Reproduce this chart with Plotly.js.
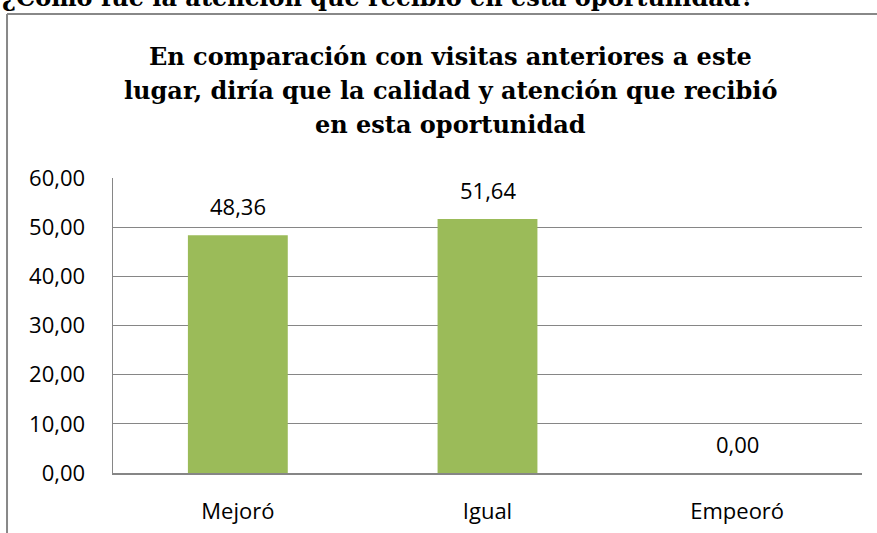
<!DOCTYPE html>
<html>
<head>
<meta charset="utf-8">
<script src="https://cdn.plot.ly/plotly-3.0.1.min.js"></script>
<style>html,body{margin:0;padding:0;background:#fff;}#chart{width:877px;height:533px;}</style>
</head>
<body>
<div id="chart"></div>
<script>
const categories = ["Mejoró", "Igual", "Empeoró"];
const values = [48.36, 51.64, 0.00];
const yTicks = [0, 10, 20, 30, 40, 50, 60];
const titleLines = [
  "En comparación con visitas anteriores a este",
  "lugar, diría que la calidad y atención que recibió",
  "en esta oportunidad"
];
const pageHeading = "¿Cómo fue la atención que recibió en esta oportunidad?";

const fmt = v => v.toFixed(2).replace('.', ',');
const labelFont = {family: "Open Sans", size: 22, color: '#000'};
const serifFont = {family: "DejaVu Serif", size: 24, color: '#000', weight: 700};
const gridColor = '#868686';

const trace = {
  type: 'bar',
  x: categories,
  y: values,
  marker: {color: '#9BBB59'},
  hoverinfo: 'none'
};

const annotations = categories.map((c, i) => ({
  x: c, y: values[i], xref: 'x', yref: 'y',
  text: fmt(values[i]), showarrow: false,
  yanchor: 'bottom', yshift: 12, font: labelFont
}));
annotations.push({
  xref: 'paper', yref: 'paper', x: -0.151, y: 1.556,
  xanchor: 'left', yanchor: 'bottom', yshift: 0,
  text: pageHeading, showarrow: false,
  font: serifFont
});
const titleY = [1.357, 1.2417, 1.1264];
titleLines.forEach((t, i) => annotations.push({
  xref: 'paper', yref: 'paper', x: 0.451, y: titleY[i],
  xanchor: 'center', yanchor: 'bottom',
  text: t, showarrow: false,
  font: serifFont
}));

const layout = {
  width: 877, height: 533,
  margin: {l: 113, r: 15, t: 178, b: 60},
  paper_bgcolor: '#fff', plot_bgcolor: '#fff',
  separators: ',.',
  showlegend: false,
  bargap: 0.6,
  xaxis: {
    type: 'category',
    showgrid: false, zeroline: false,
    showline: true, linecolor: gridColor, linewidth: 1.5,
    ticks: '', tickfont: labelFont, ticklabelstandoff: 18,
    fixedrange: true
  },
  yaxis: {
    range: [0, 60], tickvals: yTicks, tickformat: '.2f',
    showgrid: true, gridcolor: gridColor, gridwidth: 1.3,
    zeroline: false,
    showline: true, linecolor: gridColor, linewidth: 1.5,
    ticks: '', tickfont: labelFont, ticklabelstandoff: 22,
    fixedrange: true
  },
  annotations: annotations,
  shapes: [
    {type: 'line', xref: 'paper', yref: 'paper', x0: -0.1415, x1: -0.1415, y0: 1.556, y1: -0.25,
     line: {color: '#888', width: 2}},
    {type: 'line', xref: 'paper', yref: 'paper', x0: -0.1415, x1: 1.05, y0: 1.556, y1: 1.556,
     line: {color: '#888', width: 2}}
  ]
};

Plotly.newPlot('chart', [trace], layout, {displayModeBar: false, staticPlot: true});
</script>
</body>
</html>
